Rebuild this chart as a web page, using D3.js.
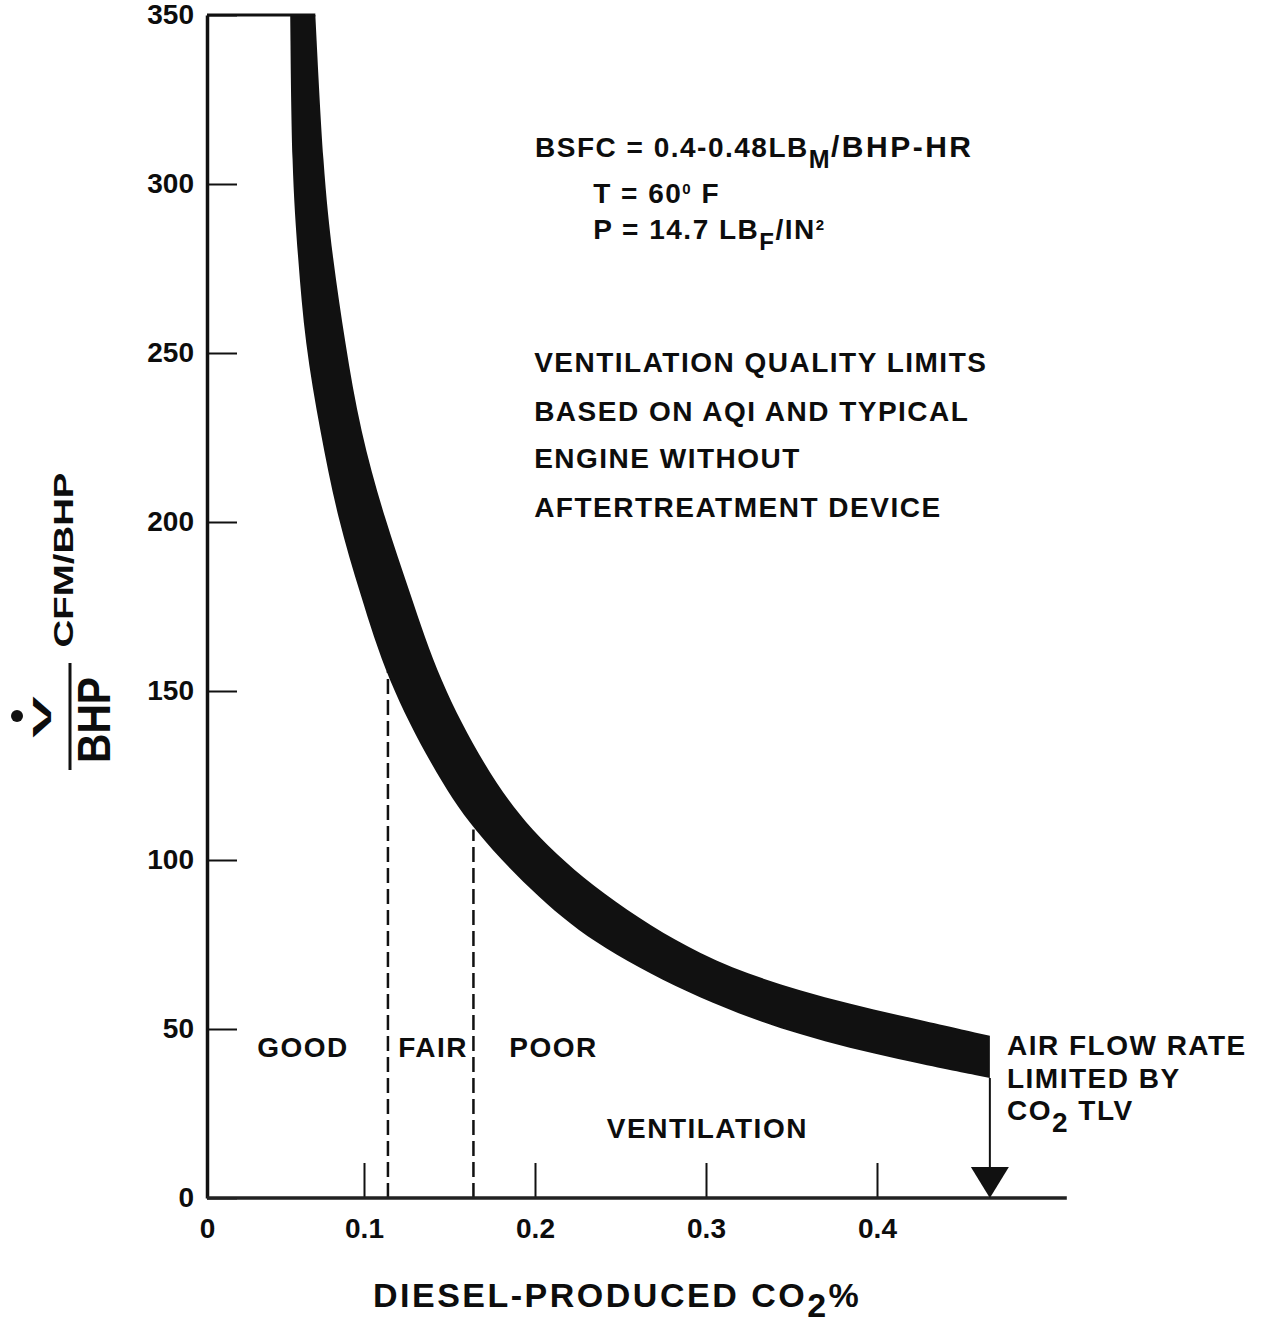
<!DOCTYPE html>
<html>
<head>
<meta charset="utf-8">
<script src="https://cdn.jsdelivr.net/npm/d3@7"></script>
<style>
  body { margin: 0; background: #fff; }
  svg text { font-family: "Liberation Sans", Arial, Helvetica, sans-serif; font-weight: bold; fill: #0d0d0d; }
</style>
</head>
<body>
<svg id="chart" width="1262" height="1327"></svg>
<script>
// axis ticks
var xTicks = [0, 0.1, 0.2, 0.3, 0.4];
var yTicks = [0, 50, 100, 150, 200, 250, 300, 350];

// right / upper edge of the band (CO2 %, CFM/BHP)
var upperCo2 = [0.069, 0.074, 0.080, 0.088, 0.0975, 0.112, 0.127, 0.144, 0.170, 0.196, 0.238, 0.297, 0.355, 0.413, 0.466];
var upperCfm = [350, 304, 278, 253, 227, 201, 179, 153, 128, 109, 90, 71, 61, 54, 48];

// left / lower edge of the band
var lowerCo2 = [0.053, 0.054, 0.058, 0.0624, 0.072, 0.0834, 0.0975, 0.1135, 0.1398, 0.1632, 0.2029, 0.238, 0.2965, 0.355, 0.4134, 0.466];
var lowerCfm = [350, 304, 278, 253, 227, 200.6, 179, 153.3, 127.5, 108.9, 88.2, 74, 58.6, 47.9, 40.8, 35.5];

// ventilation quality zones
var qualityNames = ['GOOD', 'FAIR', 'POOR'];
var qualityLabelCo2 = [0.032, 0.12, 0.185];
var qualityLimitCo2 = [0.114, 0.164];
var qualityLimitCfm = [156, 109];

// CO2 TLV limit
var tlvCo2 = 0.466;
var xAxisEnd = 0.511;

var svg = d3.select('#chart');

// the original x axis is hand drawn: first interval is shorter than the others
var x = d3.scaleLinear()
    .domain([0, 0.1, 0.4])
    .range([207, 364, 877]);

var y = d3.scaleLinear()
    .domain([0, 350])
    .range([1198, 15]);

svg.append('rect')
    .attr('width', 1262)
    .attr('height', 1327)
    .attr('fill', '#fff');

// band
var edge = d3.line()
    .x(function(d) { return x(d[0]); })
    .y(function(d) { return y(d[1]); })
    .curve(d3.curveBasis);

var upper = d3.zip(upperCo2, upperCfm);
var lower = d3.zip(lowerCo2, lowerCfm).reverse();

svg.append('path')
    .attr('d', edge(upper) + 'L' + edge(lower).slice(1) + 'Z')
    .attr('fill', '#111');

// quality limit lines
svg.selectAll('line.limit')
    .data(qualityLimitCo2)
    .enter()
    .append('line')
    .classed('limit', true)
    .attr('x1', function(d) { return x(d); })
    .attr('x2', function(d) { return x(d); })
    .attr('y1', y(0))
    .attr('y2', function(d, i) { return y(qualityLimitCfm[i]); })
    .attr('stroke', '#111')
    .attr('stroke-width', 2.5)
    .attr('stroke-dasharray', '15,6');

// y axis
var yAxis = d3.axisLeft(y)
    .tickValues(yTicks)
    .tickSizeInner(-30)
    .tickSizeOuter(0)
    .tickPadding(13);

var yg = svg.append('g')
    .attr('transform', 'translate(' + x(0) + ',0)')
    .call(yAxis);
yg.attr('font-size', 28);
yg.select('.domain').attr('stroke', '#111').attr('stroke-width', 3.5);
yg.selectAll('.tick line').attr('stroke', '#111').attr('stroke-width', 2);

// x axis
var xAxis = d3.axisBottom(x)
    .tickValues(xTicks)
    .tickSizeInner(-35)
    .tickSizeOuter(0)
    .tickPadding(20)
    .tickFormat(function(d) { return d === 0 ? '0' : d3.format('.1f')(d); });

var xg = svg.append('g')
    .attr('transform', 'translate(0,' + y(0) + ')')
    .call(xAxis);
xg.attr('font-size', 28);
xg.select('.domain').remove();
xg.selectAll('.tick line').attr('stroke', '#111').attr('stroke-width', 2);

svg.append('line')
    .attr('x1', x(0))
    .attr('x2', x(xAxisEnd))
    .attr('y1', y(0))
    .attr('y2', y(0))
    .attr('stroke', '#222')
    .attr('stroke-width', 3.5);

// top border up to the band
svg.append('line')
    .attr('x1', x(0))
    .attr('x2', x(upperCo2[0]))
    .attr('y1', y(350))
    .attr('y2', y(350))
    .attr('stroke', '#111')
    .attr('stroke-width', 3);

// TLV arrow
var tx = x(tlvCo2);
svg.append('line')
    .attr('x1', tx)
    .attr('x2', tx)
    .attr('y1', y(lowerCfm[lowerCfm.length - 1]))
    .attr('y2', y(0) - 30)
    .attr('stroke', '#111')
    .attr('stroke-width', 2);

svg.append('path')
    .attr('d', 'M' + (tx - 19) + ',' + (y(0) - 31) + 'L' + (tx + 19) + ',' + (y(0) - 31) + 'L' + tx + ',' + y(0) + 'Z')
    .attr('fill', '#111');

// annotation text
function label(co2, cfm) {
    return svg.append('text')
        .attr('x', x(co2))
        .attr('y', y(cfm))
        .attr('font-size', 28)
        .attr('letter-spacing', 1.5);
}

svg.selectAll('text.quality')
    .data(qualityNames)
    .enter()
    .append('text')
    .classed('quality', true)
    .attr('x', function(d, i) { return x(qualityLabelCo2[i]); })
    .attr('y', y(41.7))
    .attr('font-size', 28)
    .attr('letter-spacing', 1.5)
    .text(function(d) { return d; });

label(0.242, 17.8).text('VENTILATION');

label(0.476, 42.3).text('AIR FLOW RATE');
label(0.476, 32.5).text('LIMITED BY');
var tlv = label(0.476, 23.1);
tlv.append('tspan').text('CO');
tlv.append('tspan').attr('dy', 12).text('2');
tlv.append('tspan').attr('dy', -12).text(' TLV');

var bsfc = label(0.2, 308);
bsfc.append('tspan').text('BSFC = 0.4-0.48LB');
bsfc.append('tspan').attr('dy', 11).attr('font-size', 25).text('M');
bsfc.append('tspan').attr('dy', -11).attr('font-size', 30).attr('letter-spacing', 2.5).text('/BHP-HR');

var temp = label(0.234, 294.4);
temp.append('tspan').text('T = 60');
temp.append('tspan').attr('dy', -9).attr('font-size', 15).text('0');
temp.append('tspan').attr('dy', 9).text(' F');

var pres = label(0.234, 283.7);
pres.append('tspan').text('P = 14.7 LB');
pres.append('tspan').attr('dy', 11).attr('font-size', 24).text('F');
pres.append('tspan').attr('dy', -11).text('/IN');
pres.append('tspan').attr('dy', -9).attr('font-size', 15).text('2');

var noteLines = ['VENTILATION QUALITY LIMITS', 'BASED ON AQI AND TYPICAL', 'ENGINE WITHOUT', 'AFTERTREATMENT DEVICE'];
var noteCfm = [244.5, 230, 216, 201.5];
noteLines.forEach(function(t, i) {
    label(0.1995, noteCfm[i]).text(t);
});

// x axis title
var xt = svg.append('text')
    .attr('x', 373)
    .attr('y', 1307)
    .attr('font-size', 34)
    .attr('letter-spacing', 2.5);
xt.append('tspan').text('DIESEL-PRODUCED CO');
xt.append('tspan').attr('dy', 10).text('2');
xt.append('tspan').attr('dy', -10).text('%');

// y axis title: V-dot / BHP  CFM/BHP
var yt = svg.append('g');
yt.append('circle')
    .attr('cx', 17)
    .attr('cy', 716)
    .attr('r', 6)
    .attr('fill', '#111');
yt.append('text')
    .attr('transform', 'translate(51,717) rotate(-90)')
    .attr('text-anchor', 'middle')
    .attr('font-size', 26)
    .attr('textLength', 42)
    .attr('lengthAdjust', 'spacingAndGlyphs')
    .text('V');
yt.append('line')
    .attr('x1', 70)
    .attr('x2', 70)
    .attr('y1', 663)
    .attr('y2', 770)
    .attr('stroke', '#111')
    .attr('stroke-width', 3);
yt.append('text')
    .attr('transform', 'translate(110,720) rotate(-90)')
    .attr('text-anchor', 'middle')
    .attr('font-size', 46)
    .attr('textLength', 86)
    .attr('lengthAdjust', 'spacingAndGlyphs')
    .text('BHP');
yt.append('text')
    .attr('transform', 'translate(73,560) rotate(-90)')
    .attr('text-anchor', 'middle')
    .attr('font-size', 28)
    .attr('textLength', 175)
    .attr('lengthAdjust', 'spacingAndGlyphs')
    .text('CFM/BHP');
</script>
</body>
</html>
